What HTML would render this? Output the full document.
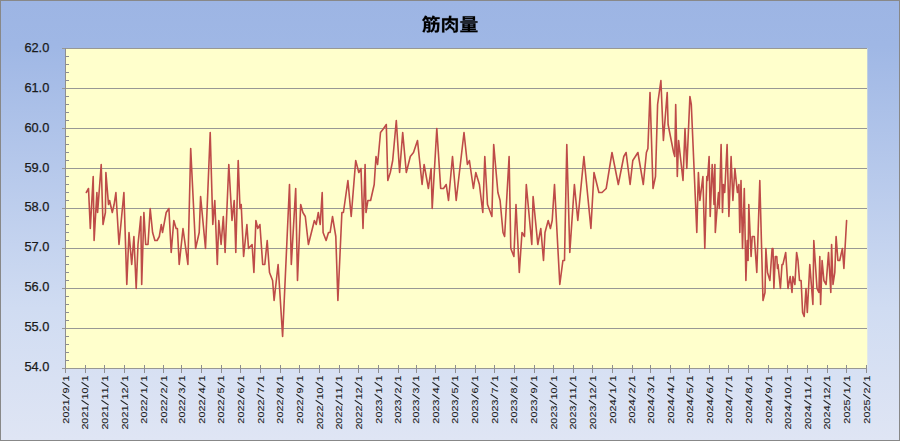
<!DOCTYPE html><html><head><meta charset="utf-8"><title>chart</title><style>html,body{margin:0;padding:0;background:#fff}body{width:900px;height:441px;overflow:hidden}svg{display:block}text{font-family:"Liberation Sans",sans-serif;fill:#1a1a1a}</style></head><body>
<svg width="900" height="441" viewBox="0 0 900 441">
<defs><linearGradient id="bg" x1="0" y1="0" x2="0" y2="1"><stop offset="0" stop-color="#9db5e4"/><stop offset="0.1" stop-color="#9fb7e5"/><stop offset="0.7" stop-color="#d0dcf2"/><stop offset="1" stop-color="#dfe5f4"/></linearGradient></defs>
<rect x="0" y="0" width="900" height="441" fill="#888"/>
<rect x="1" y="1" width="898" height="439" fill="url(#bg)"/>
<rect x="65.0" y="48.0" width="802.3" height="320.0" fill="#ffffcc"/>
<path d="M61.5 48.5H867.3M61.5 88.5H867.3M61.5 128.5H867.3M61.5 168.5H867.3M61.5 208.5H867.3M61.5 248.5H867.3M61.5 288.5H867.3M61.5 328.5H867.3M61.5 368.5H867.3" stroke="#989894" stroke-width="1" fill="none" shape-rendering="crispEdges"/>
<path d="M65.5 48.0V369.0M65.5 56.5H69.0M65.5 64.5H69.0M65.5 72.5H69.0M65.5 80.5H69.0M65.5 96.5H69.0M65.5 104.5H69.0M65.5 112.5H69.0M65.5 120.5H69.0M65.5 136.5H69.0M65.5 144.5H69.0M65.5 152.5H69.0M65.5 160.5H69.0M65.5 176.5H69.0M65.5 184.5H69.0M65.5 192.5H69.0M65.5 200.5H69.0M65.5 216.5H69.0M65.5 224.5H69.0M65.5 232.5H69.0M65.5 240.5H69.0M65.5 256.5H69.0M65.5 264.5H69.0M65.5 272.5H69.0M65.5 280.5H69.0M65.5 296.5H69.0M65.5 304.5H69.0M65.5 312.5H69.0M65.5 320.5H69.0M65.5 336.5H69.0M65.5 344.5H69.0M65.5 352.5H69.0M65.5 360.5H69.0M65.5 365.0V372.5M85.5 365.0V372.5M104.5 365.0V372.5M124.5 365.0V372.5M144.5 365.0V372.5M163.5 365.0V372.5M181.5 365.0V372.5M201.5 365.0V372.5M221.5 365.0V372.5M240.5 365.0V372.5M260.5 365.0V372.5M280.5 365.0V372.5M299.5 365.0V372.5M319.5 365.0V372.5M339.5 365.0V372.5M358.5 365.0V372.5M378.5 365.0V372.5M398.5 365.0V372.5M416.5 365.0V372.5M435.5 365.0V372.5M455.5 365.0V372.5M475.5 365.0V372.5M494.5 365.0V372.5M514.5 365.0V372.5M534.5 365.0V372.5M553.5 365.0V372.5M573.5 365.0V372.5M592.5 365.0V372.5M612.5 365.0V372.5M632.5 365.0V372.5M650.5 365.0V372.5M670.5 365.0V372.5M689.5 365.0V372.5M709.5 365.0V372.5M728.5 365.0V372.5M748.5 365.0V372.5M768.5 365.0V372.5M787.5 365.0V372.5M807.5 365.0V372.5M827.5 365.0V372.5M846.5 365.0V372.5M866.5 365.0V372.5" stroke="#8e8e90" stroke-width="1" fill="none" shape-rendering="crispEdges"/>
<text x="49.3" y="51.8" font-size="12.8" text-anchor="end" stroke="#1a1a1a" stroke-width="0.25">62.0</text>
<text x="49.3" y="91.7" font-size="12.8" text-anchor="end" stroke="#1a1a1a" stroke-width="0.25">61.0</text>
<text x="49.3" y="131.6" font-size="12.8" text-anchor="end" stroke="#1a1a1a" stroke-width="0.25">60.0</text>
<text x="49.3" y="171.5" font-size="12.8" text-anchor="end" stroke="#1a1a1a" stroke-width="0.25">59.0</text>
<text x="49.3" y="211.4" font-size="12.8" text-anchor="end" stroke="#1a1a1a" stroke-width="0.25">58.0</text>
<text x="49.3" y="251.2" font-size="12.8" text-anchor="end" stroke="#1a1a1a" stroke-width="0.25">57.0</text>
<text x="49.3" y="291.1" font-size="12.8" text-anchor="end" stroke="#1a1a1a" stroke-width="0.25">56.0</text>
<text x="49.3" y="331.0" font-size="12.8" text-anchor="end" stroke="#1a1a1a" stroke-width="0.25">55.0</text>
<text x="49.3" y="370.9" font-size="12.8" text-anchor="end" stroke="#1a1a1a" stroke-width="0.25">54.0</text>
<g transform="translate(69.2 375.6) rotate(-90) scale(1 0.9)"><text x="-6.00" y="0" font-size="10.8" stroke="#1a1a1a" stroke-width="0.1">1</text><text x="-18.01" y="0" font-size="10.8" stroke="#1a1a1a" stroke-width="0.1">9</text><text x="-30.01" y="0" font-size="10.8" stroke="#1a1a1a" stroke-width="0.1">1</text><text x="-36.02" y="0" font-size="10.8" stroke="#1a1a1a" stroke-width="0.1">2</text><text x="-42.02" y="0" font-size="10.8" stroke="#1a1a1a" stroke-width="0.1">0</text><text x="-48.03" y="0" font-size="10.8" stroke="#1a1a1a" stroke-width="0.1">2</text><path d="M-11.40 0.3L-6.60 -7.6M-23.41 0.3L-18.61 -7.6" stroke="#222" stroke-width="1.1" fill="none"/></g>
<g transform="translate(88.4 375.6) rotate(-90) scale(1 0.9)"><text x="-6.00" y="0" font-size="10.8" stroke="#1a1a1a" stroke-width="0.1">1</text><text x="-18.01" y="0" font-size="10.8" stroke="#1a1a1a" stroke-width="0.1">0</text><text x="-24.01" y="0" font-size="10.8" stroke="#1a1a1a" stroke-width="0.1">1</text><text x="-36.02" y="0" font-size="10.8" stroke="#1a1a1a" stroke-width="0.1">1</text><text x="-42.02" y="0" font-size="10.8" stroke="#1a1a1a" stroke-width="0.1">2</text><text x="-48.03" y="0" font-size="10.8" stroke="#1a1a1a" stroke-width="0.1">0</text><text x="-54.03" y="0" font-size="10.8" stroke="#1a1a1a" stroke-width="0.1">2</text><path d="M-11.40 0.3L-6.60 -7.6M-29.41 0.3L-24.61 -7.6" stroke="#222" stroke-width="1.1" fill="none"/></g>
<g transform="translate(108.3 375.6) rotate(-90) scale(1 0.9)"><text x="-6.00" y="0" font-size="10.8" stroke="#1a1a1a" stroke-width="0.1">1</text><text x="-18.01" y="0" font-size="10.8" stroke="#1a1a1a" stroke-width="0.1">1</text><text x="-24.01" y="0" font-size="10.8" stroke="#1a1a1a" stroke-width="0.1">1</text><text x="-36.02" y="0" font-size="10.8" stroke="#1a1a1a" stroke-width="0.1">1</text><text x="-42.02" y="0" font-size="10.8" stroke="#1a1a1a" stroke-width="0.1">2</text><text x="-48.03" y="0" font-size="10.8" stroke="#1a1a1a" stroke-width="0.1">0</text><text x="-54.03" y="0" font-size="10.8" stroke="#1a1a1a" stroke-width="0.1">2</text><path d="M-11.40 0.3L-6.60 -7.6M-29.41 0.3L-24.61 -7.6" stroke="#222" stroke-width="1.1" fill="none"/></g>
<g transform="translate(127.5 375.6) rotate(-90) scale(1 0.9)"><text x="-6.00" y="0" font-size="10.8" stroke="#1a1a1a" stroke-width="0.1">1</text><text x="-18.01" y="0" font-size="10.8" stroke="#1a1a1a" stroke-width="0.1">2</text><text x="-24.01" y="0" font-size="10.8" stroke="#1a1a1a" stroke-width="0.1">1</text><text x="-36.02" y="0" font-size="10.8" stroke="#1a1a1a" stroke-width="0.1">1</text><text x="-42.02" y="0" font-size="10.8" stroke="#1a1a1a" stroke-width="0.1">2</text><text x="-48.03" y="0" font-size="10.8" stroke="#1a1a1a" stroke-width="0.1">0</text><text x="-54.03" y="0" font-size="10.8" stroke="#1a1a1a" stroke-width="0.1">2</text><path d="M-11.40 0.3L-6.60 -7.6M-29.41 0.3L-24.61 -7.6" stroke="#222" stroke-width="1.1" fill="none"/></g>
<g transform="translate(147.4 375.6) rotate(-90) scale(1 0.9)"><text x="-6.00" y="0" font-size="10.8" stroke="#1a1a1a" stroke-width="0.1">1</text><text x="-18.01" y="0" font-size="10.8" stroke="#1a1a1a" stroke-width="0.1">1</text><text x="-30.01" y="0" font-size="10.8" stroke="#1a1a1a" stroke-width="0.1">2</text><text x="-36.02" y="0" font-size="10.8" stroke="#1a1a1a" stroke-width="0.1">2</text><text x="-42.02" y="0" font-size="10.8" stroke="#1a1a1a" stroke-width="0.1">0</text><text x="-48.03" y="0" font-size="10.8" stroke="#1a1a1a" stroke-width="0.1">2</text><path d="M-11.40 0.3L-6.60 -7.6M-23.41 0.3L-18.61 -7.6" stroke="#222" stroke-width="1.1" fill="none"/></g>
<g transform="translate(167.3 375.6) rotate(-90) scale(1 0.9)"><text x="-6.00" y="0" font-size="10.8" stroke="#1a1a1a" stroke-width="0.1">1</text><text x="-18.01" y="0" font-size="10.8" stroke="#1a1a1a" stroke-width="0.1">2</text><text x="-30.01" y="0" font-size="10.8" stroke="#1a1a1a" stroke-width="0.1">2</text><text x="-36.02" y="0" font-size="10.8" stroke="#1a1a1a" stroke-width="0.1">2</text><text x="-42.02" y="0" font-size="10.8" stroke="#1a1a1a" stroke-width="0.1">0</text><text x="-48.03" y="0" font-size="10.8" stroke="#1a1a1a" stroke-width="0.1">2</text><path d="M-11.40 0.3L-6.60 -7.6M-23.41 0.3L-18.61 -7.6" stroke="#222" stroke-width="1.1" fill="none"/></g>
<g transform="translate(185.2 375.6) rotate(-90) scale(1 0.9)"><text x="-6.00" y="0" font-size="10.8" stroke="#1a1a1a" stroke-width="0.1">1</text><text x="-18.01" y="0" font-size="10.8" stroke="#1a1a1a" stroke-width="0.1">3</text><text x="-30.01" y="0" font-size="10.8" stroke="#1a1a1a" stroke-width="0.1">2</text><text x="-36.02" y="0" font-size="10.8" stroke="#1a1a1a" stroke-width="0.1">2</text><text x="-42.02" y="0" font-size="10.8" stroke="#1a1a1a" stroke-width="0.1">0</text><text x="-48.03" y="0" font-size="10.8" stroke="#1a1a1a" stroke-width="0.1">2</text><path d="M-11.40 0.3L-6.60 -7.6M-23.41 0.3L-18.61 -7.6" stroke="#222" stroke-width="1.1" fill="none"/></g>
<g transform="translate(205.1 375.6) rotate(-90) scale(1 0.9)"><text x="-6.00" y="0" font-size="10.8" stroke="#1a1a1a" stroke-width="0.1">1</text><text x="-18.01" y="0" font-size="10.8" stroke="#1a1a1a" stroke-width="0.1">4</text><text x="-30.01" y="0" font-size="10.8" stroke="#1a1a1a" stroke-width="0.1">2</text><text x="-36.02" y="0" font-size="10.8" stroke="#1a1a1a" stroke-width="0.1">2</text><text x="-42.02" y="0" font-size="10.8" stroke="#1a1a1a" stroke-width="0.1">0</text><text x="-48.03" y="0" font-size="10.8" stroke="#1a1a1a" stroke-width="0.1">2</text><path d="M-11.40 0.3L-6.60 -7.6M-23.41 0.3L-18.61 -7.6" stroke="#222" stroke-width="1.1" fill="none"/></g>
<g transform="translate(224.4 375.6) rotate(-90) scale(1 0.9)"><text x="-6.00" y="0" font-size="10.8" stroke="#1a1a1a" stroke-width="0.1">1</text><text x="-18.01" y="0" font-size="10.8" stroke="#1a1a1a" stroke-width="0.1">5</text><text x="-30.01" y="0" font-size="10.8" stroke="#1a1a1a" stroke-width="0.1">2</text><text x="-36.02" y="0" font-size="10.8" stroke="#1a1a1a" stroke-width="0.1">2</text><text x="-42.02" y="0" font-size="10.8" stroke="#1a1a1a" stroke-width="0.1">0</text><text x="-48.03" y="0" font-size="10.8" stroke="#1a1a1a" stroke-width="0.1">2</text><path d="M-11.40 0.3L-6.60 -7.6M-23.41 0.3L-18.61 -7.6" stroke="#222" stroke-width="1.1" fill="none"/></g>
<g transform="translate(244.2 375.6) rotate(-90) scale(1 0.9)"><text x="-6.00" y="0" font-size="10.8" stroke="#1a1a1a" stroke-width="0.1">1</text><text x="-18.01" y="0" font-size="10.8" stroke="#1a1a1a" stroke-width="0.1">6</text><text x="-30.01" y="0" font-size="10.8" stroke="#1a1a1a" stroke-width="0.1">2</text><text x="-36.02" y="0" font-size="10.8" stroke="#1a1a1a" stroke-width="0.1">2</text><text x="-42.02" y="0" font-size="10.8" stroke="#1a1a1a" stroke-width="0.1">0</text><text x="-48.03" y="0" font-size="10.8" stroke="#1a1a1a" stroke-width="0.1">2</text><path d="M-11.40 0.3L-6.60 -7.6M-23.41 0.3L-18.61 -7.6" stroke="#222" stroke-width="1.1" fill="none"/></g>
<g transform="translate(263.5 375.6) rotate(-90) scale(1 0.9)"><text x="-6.00" y="0" font-size="10.8" stroke="#1a1a1a" stroke-width="0.1">1</text><text x="-18.01" y="0" font-size="10.8" stroke="#1a1a1a" stroke-width="0.1">7</text><text x="-30.01" y="0" font-size="10.8" stroke="#1a1a1a" stroke-width="0.1">2</text><text x="-36.02" y="0" font-size="10.8" stroke="#1a1a1a" stroke-width="0.1">2</text><text x="-42.02" y="0" font-size="10.8" stroke="#1a1a1a" stroke-width="0.1">0</text><text x="-48.03" y="0" font-size="10.8" stroke="#1a1a1a" stroke-width="0.1">2</text><path d="M-11.40 0.3L-6.60 -7.6M-23.41 0.3L-18.61 -7.6" stroke="#222" stroke-width="1.1" fill="none"/></g>
<g transform="translate(283.4 375.6) rotate(-90) scale(1 0.9)"><text x="-6.00" y="0" font-size="10.8" stroke="#1a1a1a" stroke-width="0.1">1</text><text x="-18.01" y="0" font-size="10.8" stroke="#1a1a1a" stroke-width="0.1">8</text><text x="-30.01" y="0" font-size="10.8" stroke="#1a1a1a" stroke-width="0.1">2</text><text x="-36.02" y="0" font-size="10.8" stroke="#1a1a1a" stroke-width="0.1">2</text><text x="-42.02" y="0" font-size="10.8" stroke="#1a1a1a" stroke-width="0.1">0</text><text x="-48.03" y="0" font-size="10.8" stroke="#1a1a1a" stroke-width="0.1">2</text><path d="M-11.40 0.3L-6.60 -7.6M-23.41 0.3L-18.61 -7.6" stroke="#222" stroke-width="1.1" fill="none"/></g>
<g transform="translate(303.2 375.6) rotate(-90) scale(1 0.9)"><text x="-6.00" y="0" font-size="10.8" stroke="#1a1a1a" stroke-width="0.1">1</text><text x="-18.01" y="0" font-size="10.8" stroke="#1a1a1a" stroke-width="0.1">9</text><text x="-30.01" y="0" font-size="10.8" stroke="#1a1a1a" stroke-width="0.1">2</text><text x="-36.02" y="0" font-size="10.8" stroke="#1a1a1a" stroke-width="0.1">2</text><text x="-42.02" y="0" font-size="10.8" stroke="#1a1a1a" stroke-width="0.1">0</text><text x="-48.03" y="0" font-size="10.8" stroke="#1a1a1a" stroke-width="0.1">2</text><path d="M-11.40 0.3L-6.60 -7.6M-23.41 0.3L-18.61 -7.6" stroke="#222" stroke-width="1.1" fill="none"/></g>
<g transform="translate(322.5 375.6) rotate(-90) scale(1 0.9)"><text x="-6.00" y="0" font-size="10.8" stroke="#1a1a1a" stroke-width="0.1">1</text><text x="-18.01" y="0" font-size="10.8" stroke="#1a1a1a" stroke-width="0.1">0</text><text x="-24.01" y="0" font-size="10.8" stroke="#1a1a1a" stroke-width="0.1">1</text><text x="-36.02" y="0" font-size="10.8" stroke="#1a1a1a" stroke-width="0.1">2</text><text x="-42.02" y="0" font-size="10.8" stroke="#1a1a1a" stroke-width="0.1">2</text><text x="-48.03" y="0" font-size="10.8" stroke="#1a1a1a" stroke-width="0.1">0</text><text x="-54.03" y="0" font-size="10.8" stroke="#1a1a1a" stroke-width="0.1">2</text><path d="M-11.40 0.3L-6.60 -7.6M-29.41 0.3L-24.61 -7.6" stroke="#222" stroke-width="1.1" fill="none"/></g>
<g transform="translate(342.4 375.6) rotate(-90) scale(1 0.9)"><text x="-6.00" y="0" font-size="10.8" stroke="#1a1a1a" stroke-width="0.1">1</text><text x="-18.01" y="0" font-size="10.8" stroke="#1a1a1a" stroke-width="0.1">1</text><text x="-24.01" y="0" font-size="10.8" stroke="#1a1a1a" stroke-width="0.1">1</text><text x="-36.02" y="0" font-size="10.8" stroke="#1a1a1a" stroke-width="0.1">2</text><text x="-42.02" y="0" font-size="10.8" stroke="#1a1a1a" stroke-width="0.1">2</text><text x="-48.03" y="0" font-size="10.8" stroke="#1a1a1a" stroke-width="0.1">0</text><text x="-54.03" y="0" font-size="10.8" stroke="#1a1a1a" stroke-width="0.1">2</text><path d="M-11.40 0.3L-6.60 -7.6M-29.41 0.3L-24.61 -7.6" stroke="#222" stroke-width="1.1" fill="none"/></g>
<g transform="translate(361.6 375.6) rotate(-90) scale(1 0.9)"><text x="-6.00" y="0" font-size="10.8" stroke="#1a1a1a" stroke-width="0.1">1</text><text x="-18.01" y="0" font-size="10.8" stroke="#1a1a1a" stroke-width="0.1">2</text><text x="-24.01" y="0" font-size="10.8" stroke="#1a1a1a" stroke-width="0.1">1</text><text x="-36.02" y="0" font-size="10.8" stroke="#1a1a1a" stroke-width="0.1">2</text><text x="-42.02" y="0" font-size="10.8" stroke="#1a1a1a" stroke-width="0.1">2</text><text x="-48.03" y="0" font-size="10.8" stroke="#1a1a1a" stroke-width="0.1">0</text><text x="-54.03" y="0" font-size="10.8" stroke="#1a1a1a" stroke-width="0.1">2</text><path d="M-11.40 0.3L-6.60 -7.6M-29.41 0.3L-24.61 -7.6" stroke="#222" stroke-width="1.1" fill="none"/></g>
<g transform="translate(381.5 375.6) rotate(-90) scale(1 0.9)"><text x="-6.00" y="0" font-size="10.8" stroke="#1a1a1a" stroke-width="0.1">1</text><text x="-18.01" y="0" font-size="10.8" stroke="#1a1a1a" stroke-width="0.1">1</text><text x="-30.01" y="0" font-size="10.8" stroke="#1a1a1a" stroke-width="0.1">3</text><text x="-36.02" y="0" font-size="10.8" stroke="#1a1a1a" stroke-width="0.1">2</text><text x="-42.02" y="0" font-size="10.8" stroke="#1a1a1a" stroke-width="0.1">0</text><text x="-48.03" y="0" font-size="10.8" stroke="#1a1a1a" stroke-width="0.1">2</text><path d="M-11.40 0.3L-6.60 -7.6M-23.41 0.3L-18.61 -7.6" stroke="#222" stroke-width="1.1" fill="none"/></g>
<g transform="translate(401.4 375.6) rotate(-90) scale(1 0.9)"><text x="-6.00" y="0" font-size="10.8" stroke="#1a1a1a" stroke-width="0.1">1</text><text x="-18.01" y="0" font-size="10.8" stroke="#1a1a1a" stroke-width="0.1">2</text><text x="-30.01" y="0" font-size="10.8" stroke="#1a1a1a" stroke-width="0.1">3</text><text x="-36.02" y="0" font-size="10.8" stroke="#1a1a1a" stroke-width="0.1">2</text><text x="-42.02" y="0" font-size="10.8" stroke="#1a1a1a" stroke-width="0.1">0</text><text x="-48.03" y="0" font-size="10.8" stroke="#1a1a1a" stroke-width="0.1">2</text><path d="M-11.40 0.3L-6.60 -7.6M-23.41 0.3L-18.61 -7.6" stroke="#222" stroke-width="1.1" fill="none"/></g>
<g transform="translate(419.3 375.6) rotate(-90) scale(1 0.9)"><text x="-6.00" y="0" font-size="10.8" stroke="#1a1a1a" stroke-width="0.1">1</text><text x="-18.01" y="0" font-size="10.8" stroke="#1a1a1a" stroke-width="0.1">3</text><text x="-30.01" y="0" font-size="10.8" stroke="#1a1a1a" stroke-width="0.1">3</text><text x="-36.02" y="0" font-size="10.8" stroke="#1a1a1a" stroke-width="0.1">2</text><text x="-42.02" y="0" font-size="10.8" stroke="#1a1a1a" stroke-width="0.1">0</text><text x="-48.03" y="0" font-size="10.8" stroke="#1a1a1a" stroke-width="0.1">2</text><path d="M-11.40 0.3L-6.60 -7.6M-23.41 0.3L-18.61 -7.6" stroke="#222" stroke-width="1.1" fill="none"/></g>
<g transform="translate(439.2 375.6) rotate(-90) scale(1 0.9)"><text x="-6.00" y="0" font-size="10.8" stroke="#1a1a1a" stroke-width="0.1">1</text><text x="-18.01" y="0" font-size="10.8" stroke="#1a1a1a" stroke-width="0.1">4</text><text x="-30.01" y="0" font-size="10.8" stroke="#1a1a1a" stroke-width="0.1">3</text><text x="-36.02" y="0" font-size="10.8" stroke="#1a1a1a" stroke-width="0.1">2</text><text x="-42.02" y="0" font-size="10.8" stroke="#1a1a1a" stroke-width="0.1">0</text><text x="-48.03" y="0" font-size="10.8" stroke="#1a1a1a" stroke-width="0.1">2</text><path d="M-11.40 0.3L-6.60 -7.6M-23.41 0.3L-18.61 -7.6" stroke="#222" stroke-width="1.1" fill="none"/></g>
<g transform="translate(458.4 375.6) rotate(-90) scale(1 0.9)"><text x="-6.00" y="0" font-size="10.8" stroke="#1a1a1a" stroke-width="0.1">1</text><text x="-18.01" y="0" font-size="10.8" stroke="#1a1a1a" stroke-width="0.1">5</text><text x="-30.01" y="0" font-size="10.8" stroke="#1a1a1a" stroke-width="0.1">3</text><text x="-36.02" y="0" font-size="10.8" stroke="#1a1a1a" stroke-width="0.1">2</text><text x="-42.02" y="0" font-size="10.8" stroke="#1a1a1a" stroke-width="0.1">0</text><text x="-48.03" y="0" font-size="10.8" stroke="#1a1a1a" stroke-width="0.1">2</text><path d="M-11.40 0.3L-6.60 -7.6M-23.41 0.3L-18.61 -7.6" stroke="#222" stroke-width="1.1" fill="none"/></g>
<g transform="translate(478.3 375.6) rotate(-90) scale(1 0.9)"><text x="-6.00" y="0" font-size="10.8" stroke="#1a1a1a" stroke-width="0.1">1</text><text x="-18.01" y="0" font-size="10.8" stroke="#1a1a1a" stroke-width="0.1">6</text><text x="-30.01" y="0" font-size="10.8" stroke="#1a1a1a" stroke-width="0.1">3</text><text x="-36.02" y="0" font-size="10.8" stroke="#1a1a1a" stroke-width="0.1">2</text><text x="-42.02" y="0" font-size="10.8" stroke="#1a1a1a" stroke-width="0.1">0</text><text x="-48.03" y="0" font-size="10.8" stroke="#1a1a1a" stroke-width="0.1">2</text><path d="M-11.40 0.3L-6.60 -7.6M-23.41 0.3L-18.61 -7.6" stroke="#222" stroke-width="1.1" fill="none"/></g>
<g transform="translate(497.5 375.6) rotate(-90) scale(1 0.9)"><text x="-6.00" y="0" font-size="10.8" stroke="#1a1a1a" stroke-width="0.1">1</text><text x="-18.01" y="0" font-size="10.8" stroke="#1a1a1a" stroke-width="0.1">7</text><text x="-30.01" y="0" font-size="10.8" stroke="#1a1a1a" stroke-width="0.1">3</text><text x="-36.02" y="0" font-size="10.8" stroke="#1a1a1a" stroke-width="0.1">2</text><text x="-42.02" y="0" font-size="10.8" stroke="#1a1a1a" stroke-width="0.1">0</text><text x="-48.03" y="0" font-size="10.8" stroke="#1a1a1a" stroke-width="0.1">2</text><path d="M-11.40 0.3L-6.60 -7.6M-23.41 0.3L-18.61 -7.6" stroke="#222" stroke-width="1.1" fill="none"/></g>
<g transform="translate(517.4 375.6) rotate(-90) scale(1 0.9)"><text x="-6.00" y="0" font-size="10.8" stroke="#1a1a1a" stroke-width="0.1">1</text><text x="-18.01" y="0" font-size="10.8" stroke="#1a1a1a" stroke-width="0.1">8</text><text x="-30.01" y="0" font-size="10.8" stroke="#1a1a1a" stroke-width="0.1">3</text><text x="-36.02" y="0" font-size="10.8" stroke="#1a1a1a" stroke-width="0.1">2</text><text x="-42.02" y="0" font-size="10.8" stroke="#1a1a1a" stroke-width="0.1">0</text><text x="-48.03" y="0" font-size="10.8" stroke="#1a1a1a" stroke-width="0.1">2</text><path d="M-11.40 0.3L-6.60 -7.6M-23.41 0.3L-18.61 -7.6" stroke="#222" stroke-width="1.1" fill="none"/></g>
<g transform="translate(537.3 375.6) rotate(-90) scale(1 0.9)"><text x="-6.00" y="0" font-size="10.8" stroke="#1a1a1a" stroke-width="0.1">1</text><text x="-18.01" y="0" font-size="10.8" stroke="#1a1a1a" stroke-width="0.1">9</text><text x="-30.01" y="0" font-size="10.8" stroke="#1a1a1a" stroke-width="0.1">3</text><text x="-36.02" y="0" font-size="10.8" stroke="#1a1a1a" stroke-width="0.1">2</text><text x="-42.02" y="0" font-size="10.8" stroke="#1a1a1a" stroke-width="0.1">0</text><text x="-48.03" y="0" font-size="10.8" stroke="#1a1a1a" stroke-width="0.1">2</text><path d="M-11.40 0.3L-6.60 -7.6M-23.41 0.3L-18.61 -7.6" stroke="#222" stroke-width="1.1" fill="none"/></g>
<g transform="translate(556.5 375.6) rotate(-90) scale(1 0.9)"><text x="-6.00" y="0" font-size="10.8" stroke="#1a1a1a" stroke-width="0.1">1</text><text x="-18.01" y="0" font-size="10.8" stroke="#1a1a1a" stroke-width="0.1">0</text><text x="-24.01" y="0" font-size="10.8" stroke="#1a1a1a" stroke-width="0.1">1</text><text x="-36.02" y="0" font-size="10.8" stroke="#1a1a1a" stroke-width="0.1">3</text><text x="-42.02" y="0" font-size="10.8" stroke="#1a1a1a" stroke-width="0.1">2</text><text x="-48.03" y="0" font-size="10.8" stroke="#1a1a1a" stroke-width="0.1">0</text><text x="-54.03" y="0" font-size="10.8" stroke="#1a1a1a" stroke-width="0.1">2</text><path d="M-11.40 0.3L-6.60 -7.6M-29.41 0.3L-24.61 -7.6" stroke="#222" stroke-width="1.1" fill="none"/></g>
<g transform="translate(576.4 375.6) rotate(-90) scale(1 0.9)"><text x="-6.00" y="0" font-size="10.8" stroke="#1a1a1a" stroke-width="0.1">1</text><text x="-18.01" y="0" font-size="10.8" stroke="#1a1a1a" stroke-width="0.1">1</text><text x="-24.01" y="0" font-size="10.8" stroke="#1a1a1a" stroke-width="0.1">1</text><text x="-36.02" y="0" font-size="10.8" stroke="#1a1a1a" stroke-width="0.1">3</text><text x="-42.02" y="0" font-size="10.8" stroke="#1a1a1a" stroke-width="0.1">2</text><text x="-48.03" y="0" font-size="10.8" stroke="#1a1a1a" stroke-width="0.1">0</text><text x="-54.03" y="0" font-size="10.8" stroke="#1a1a1a" stroke-width="0.1">2</text><path d="M-11.40 0.3L-6.60 -7.6M-29.41 0.3L-24.61 -7.6" stroke="#222" stroke-width="1.1" fill="none"/></g>
<g transform="translate(595.7 375.6) rotate(-90) scale(1 0.9)"><text x="-6.00" y="0" font-size="10.8" stroke="#1a1a1a" stroke-width="0.1">1</text><text x="-18.01" y="0" font-size="10.8" stroke="#1a1a1a" stroke-width="0.1">2</text><text x="-24.01" y="0" font-size="10.8" stroke="#1a1a1a" stroke-width="0.1">1</text><text x="-36.02" y="0" font-size="10.8" stroke="#1a1a1a" stroke-width="0.1">3</text><text x="-42.02" y="0" font-size="10.8" stroke="#1a1a1a" stroke-width="0.1">2</text><text x="-48.03" y="0" font-size="10.8" stroke="#1a1a1a" stroke-width="0.1">0</text><text x="-54.03" y="0" font-size="10.8" stroke="#1a1a1a" stroke-width="0.1">2</text><path d="M-11.40 0.3L-6.60 -7.6M-29.41 0.3L-24.61 -7.6" stroke="#222" stroke-width="1.1" fill="none"/></g>
<g transform="translate(615.5 375.6) rotate(-90) scale(1 0.9)"><text x="-6.00" y="0" font-size="10.8" stroke="#1a1a1a" stroke-width="0.1">1</text><text x="-18.01" y="0" font-size="10.8" stroke="#1a1a1a" stroke-width="0.1">1</text><text x="-30.01" y="0" font-size="10.8" stroke="#1a1a1a" stroke-width="0.1">4</text><text x="-36.02" y="0" font-size="10.8" stroke="#1a1a1a" stroke-width="0.1">2</text><text x="-42.02" y="0" font-size="10.8" stroke="#1a1a1a" stroke-width="0.1">0</text><text x="-48.03" y="0" font-size="10.8" stroke="#1a1a1a" stroke-width="0.1">2</text><path d="M-11.40 0.3L-6.60 -7.6M-23.41 0.3L-18.61 -7.6" stroke="#222" stroke-width="1.1" fill="none"/></g>
<g transform="translate(635.4 375.6) rotate(-90) scale(1 0.9)"><text x="-6.00" y="0" font-size="10.8" stroke="#1a1a1a" stroke-width="0.1">1</text><text x="-18.01" y="0" font-size="10.8" stroke="#1a1a1a" stroke-width="0.1">2</text><text x="-30.01" y="0" font-size="10.8" stroke="#1a1a1a" stroke-width="0.1">4</text><text x="-36.02" y="0" font-size="10.8" stroke="#1a1a1a" stroke-width="0.1">2</text><text x="-42.02" y="0" font-size="10.8" stroke="#1a1a1a" stroke-width="0.1">0</text><text x="-48.03" y="0" font-size="10.8" stroke="#1a1a1a" stroke-width="0.1">2</text><path d="M-11.40 0.3L-6.60 -7.6M-23.41 0.3L-18.61 -7.6" stroke="#222" stroke-width="1.1" fill="none"/></g>
<g transform="translate(654.0 375.6) rotate(-90) scale(1 0.9)"><text x="-6.00" y="0" font-size="10.8" stroke="#1a1a1a" stroke-width="0.1">1</text><text x="-18.01" y="0" font-size="10.8" stroke="#1a1a1a" stroke-width="0.1">3</text><text x="-30.01" y="0" font-size="10.8" stroke="#1a1a1a" stroke-width="0.1">4</text><text x="-36.02" y="0" font-size="10.8" stroke="#1a1a1a" stroke-width="0.1">2</text><text x="-42.02" y="0" font-size="10.8" stroke="#1a1a1a" stroke-width="0.1">0</text><text x="-48.03" y="0" font-size="10.8" stroke="#1a1a1a" stroke-width="0.1">2</text><path d="M-11.40 0.3L-6.60 -7.6M-23.41 0.3L-18.61 -7.6" stroke="#222" stroke-width="1.1" fill="none"/></g>
<g transform="translate(673.9 375.6) rotate(-90) scale(1 0.9)"><text x="-6.00" y="0" font-size="10.8" stroke="#1a1a1a" stroke-width="0.1">1</text><text x="-18.01" y="0" font-size="10.8" stroke="#1a1a1a" stroke-width="0.1">4</text><text x="-30.01" y="0" font-size="10.8" stroke="#1a1a1a" stroke-width="0.1">4</text><text x="-36.02" y="0" font-size="10.8" stroke="#1a1a1a" stroke-width="0.1">2</text><text x="-42.02" y="0" font-size="10.8" stroke="#1a1a1a" stroke-width="0.1">0</text><text x="-48.03" y="0" font-size="10.8" stroke="#1a1a1a" stroke-width="0.1">2</text><path d="M-11.40 0.3L-6.60 -7.6M-23.41 0.3L-18.61 -7.6" stroke="#222" stroke-width="1.1" fill="none"/></g>
<g transform="translate(693.1 375.6) rotate(-90) scale(1 0.9)"><text x="-6.00" y="0" font-size="10.8" stroke="#1a1a1a" stroke-width="0.1">1</text><text x="-18.01" y="0" font-size="10.8" stroke="#1a1a1a" stroke-width="0.1">5</text><text x="-30.01" y="0" font-size="10.8" stroke="#1a1a1a" stroke-width="0.1">4</text><text x="-36.02" y="0" font-size="10.8" stroke="#1a1a1a" stroke-width="0.1">2</text><text x="-42.02" y="0" font-size="10.8" stroke="#1a1a1a" stroke-width="0.1">0</text><text x="-48.03" y="0" font-size="10.8" stroke="#1a1a1a" stroke-width="0.1">2</text><path d="M-11.40 0.3L-6.60 -7.6M-23.41 0.3L-18.61 -7.6" stroke="#222" stroke-width="1.1" fill="none"/></g>
<g transform="translate(713.0 375.6) rotate(-90) scale(1 0.9)"><text x="-6.00" y="0" font-size="10.8" stroke="#1a1a1a" stroke-width="0.1">1</text><text x="-18.01" y="0" font-size="10.8" stroke="#1a1a1a" stroke-width="0.1">6</text><text x="-30.01" y="0" font-size="10.8" stroke="#1a1a1a" stroke-width="0.1">4</text><text x="-36.02" y="0" font-size="10.8" stroke="#1a1a1a" stroke-width="0.1">2</text><text x="-42.02" y="0" font-size="10.8" stroke="#1a1a1a" stroke-width="0.1">0</text><text x="-48.03" y="0" font-size="10.8" stroke="#1a1a1a" stroke-width="0.1">2</text><path d="M-11.40 0.3L-6.60 -7.6M-23.41 0.3L-18.61 -7.6" stroke="#222" stroke-width="1.1" fill="none"/></g>
<g transform="translate(732.3 375.6) rotate(-90) scale(1 0.9)"><text x="-6.00" y="0" font-size="10.8" stroke="#1a1a1a" stroke-width="0.1">1</text><text x="-18.01" y="0" font-size="10.8" stroke="#1a1a1a" stroke-width="0.1">7</text><text x="-30.01" y="0" font-size="10.8" stroke="#1a1a1a" stroke-width="0.1">4</text><text x="-36.02" y="0" font-size="10.8" stroke="#1a1a1a" stroke-width="0.1">2</text><text x="-42.02" y="0" font-size="10.8" stroke="#1a1a1a" stroke-width="0.1">0</text><text x="-48.03" y="0" font-size="10.8" stroke="#1a1a1a" stroke-width="0.1">2</text><path d="M-11.40 0.3L-6.60 -7.6M-23.41 0.3L-18.61 -7.6" stroke="#222" stroke-width="1.1" fill="none"/></g>
<g transform="translate(752.1 375.6) rotate(-90) scale(1 0.9)"><text x="-6.00" y="0" font-size="10.8" stroke="#1a1a1a" stroke-width="0.1">1</text><text x="-18.01" y="0" font-size="10.8" stroke="#1a1a1a" stroke-width="0.1">8</text><text x="-30.01" y="0" font-size="10.8" stroke="#1a1a1a" stroke-width="0.1">4</text><text x="-36.02" y="0" font-size="10.8" stroke="#1a1a1a" stroke-width="0.1">2</text><text x="-42.02" y="0" font-size="10.8" stroke="#1a1a1a" stroke-width="0.1">0</text><text x="-48.03" y="0" font-size="10.8" stroke="#1a1a1a" stroke-width="0.1">2</text><path d="M-11.40 0.3L-6.60 -7.6M-23.41 0.3L-18.61 -7.6" stroke="#222" stroke-width="1.1" fill="none"/></g>
<g transform="translate(772.0 375.6) rotate(-90) scale(1 0.9)"><text x="-6.00" y="0" font-size="10.8" stroke="#1a1a1a" stroke-width="0.1">1</text><text x="-18.01" y="0" font-size="10.8" stroke="#1a1a1a" stroke-width="0.1">9</text><text x="-30.01" y="0" font-size="10.8" stroke="#1a1a1a" stroke-width="0.1">4</text><text x="-36.02" y="0" font-size="10.8" stroke="#1a1a1a" stroke-width="0.1">2</text><text x="-42.02" y="0" font-size="10.8" stroke="#1a1a1a" stroke-width="0.1">0</text><text x="-48.03" y="0" font-size="10.8" stroke="#1a1a1a" stroke-width="0.1">2</text><path d="M-11.40 0.3L-6.60 -7.6M-23.41 0.3L-18.61 -7.6" stroke="#222" stroke-width="1.1" fill="none"/></g>
<g transform="translate(791.3 375.6) rotate(-90) scale(1 0.9)"><text x="-6.00" y="0" font-size="10.8" stroke="#1a1a1a" stroke-width="0.1">1</text><text x="-18.01" y="0" font-size="10.8" stroke="#1a1a1a" stroke-width="0.1">0</text><text x="-24.01" y="0" font-size="10.8" stroke="#1a1a1a" stroke-width="0.1">1</text><text x="-36.02" y="0" font-size="10.8" stroke="#1a1a1a" stroke-width="0.1">4</text><text x="-42.02" y="0" font-size="10.8" stroke="#1a1a1a" stroke-width="0.1">2</text><text x="-48.03" y="0" font-size="10.8" stroke="#1a1a1a" stroke-width="0.1">0</text><text x="-54.03" y="0" font-size="10.8" stroke="#1a1a1a" stroke-width="0.1">2</text><path d="M-11.40 0.3L-6.60 -7.6M-29.41 0.3L-24.61 -7.6" stroke="#222" stroke-width="1.1" fill="none"/></g>
<g transform="translate(811.1 375.6) rotate(-90) scale(1 0.9)"><text x="-6.00" y="0" font-size="10.8" stroke="#1a1a1a" stroke-width="0.1">1</text><text x="-18.01" y="0" font-size="10.8" stroke="#1a1a1a" stroke-width="0.1">1</text><text x="-24.01" y="0" font-size="10.8" stroke="#1a1a1a" stroke-width="0.1">1</text><text x="-36.02" y="0" font-size="10.8" stroke="#1a1a1a" stroke-width="0.1">4</text><text x="-42.02" y="0" font-size="10.8" stroke="#1a1a1a" stroke-width="0.1">2</text><text x="-48.03" y="0" font-size="10.8" stroke="#1a1a1a" stroke-width="0.1">0</text><text x="-54.03" y="0" font-size="10.8" stroke="#1a1a1a" stroke-width="0.1">2</text><path d="M-11.40 0.3L-6.60 -7.6M-29.41 0.3L-24.61 -7.6" stroke="#222" stroke-width="1.1" fill="none"/></g>
<g transform="translate(830.4 375.6) rotate(-90) scale(1 0.9)"><text x="-6.00" y="0" font-size="10.8" stroke="#1a1a1a" stroke-width="0.1">1</text><text x="-18.01" y="0" font-size="10.8" stroke="#1a1a1a" stroke-width="0.1">2</text><text x="-24.01" y="0" font-size="10.8" stroke="#1a1a1a" stroke-width="0.1">1</text><text x="-36.02" y="0" font-size="10.8" stroke="#1a1a1a" stroke-width="0.1">4</text><text x="-42.02" y="0" font-size="10.8" stroke="#1a1a1a" stroke-width="0.1">2</text><text x="-48.03" y="0" font-size="10.8" stroke="#1a1a1a" stroke-width="0.1">0</text><text x="-54.03" y="0" font-size="10.8" stroke="#1a1a1a" stroke-width="0.1">2</text><path d="M-11.40 0.3L-6.60 -7.6M-29.41 0.3L-24.61 -7.6" stroke="#222" stroke-width="1.1" fill="none"/></g>
<g transform="translate(850.3 375.6) rotate(-90) scale(1 0.9)"><text x="-6.00" y="0" font-size="10.8" stroke="#1a1a1a" stroke-width="0.1">1</text><text x="-18.01" y="0" font-size="10.8" stroke="#1a1a1a" stroke-width="0.1">1</text><text x="-30.01" y="0" font-size="10.8" stroke="#1a1a1a" stroke-width="0.1">5</text><text x="-36.02" y="0" font-size="10.8" stroke="#1a1a1a" stroke-width="0.1">2</text><text x="-42.02" y="0" font-size="10.8" stroke="#1a1a1a" stroke-width="0.1">0</text><text x="-48.03" y="0" font-size="10.8" stroke="#1a1a1a" stroke-width="0.1">2</text><path d="M-11.40 0.3L-6.60 -7.6M-23.41 0.3L-18.61 -7.6" stroke="#222" stroke-width="1.1" fill="none"/></g>
<g transform="translate(870.1 375.6) rotate(-90) scale(1 0.9)"><text x="-6.00" y="0" font-size="10.8" stroke="#1a1a1a" stroke-width="0.1">1</text><text x="-18.01" y="0" font-size="10.8" stroke="#1a1a1a" stroke-width="0.1">2</text><text x="-30.01" y="0" font-size="10.8" stroke="#1a1a1a" stroke-width="0.1">5</text><text x="-36.02" y="0" font-size="10.8" stroke="#1a1a1a" stroke-width="0.1">2</text><text x="-42.02" y="0" font-size="10.8" stroke="#1a1a1a" stroke-width="0.1">0</text><text x="-48.03" y="0" font-size="10.8" stroke="#1a1a1a" stroke-width="0.1">2</text><path d="M-11.40 0.3L-6.60 -7.6M-23.41 0.3L-18.61 -7.6" stroke="#222" stroke-width="1.1" fill="none"/></g>
<path transform="translate(421.60 31.0) scale(0.01892 -0.01795)" d="M353 440V383H235V440ZM606 567V472H495V364H606C604 251 584 113 465 -5C466 6 467 18 467 32V539H122V320C122 213 116 70 38 -30C65 -42 115 -74 135 -94C182 -31 208 51 221 133H353V34C353 22 349 18 338 18C326 18 289 18 254 20C269 -10 282 -58 286 -89C348 -89 393 -87 425 -69C445 -58 456 -44 461 -22C487 -41 519 -68 537 -90C687 43 715 215 717 364H824C818 143 808 60 793 39C784 27 775 25 761 25C744 25 712 25 676 28C693 -3 706 -51 707 -85C753 -86 795 -86 822 -81C852 -76 873 -66 894 -38C922 1 932 117 941 423C941 438 942 472 942 472H717V567ZM353 289V228H232L235 289ZM582 857C561 795 527 734 486 683V763H266C276 784 285 806 293 827L179 857C146 762 87 665 22 605C50 590 99 558 122 540C153 573 184 616 213 663H228C251 623 274 577 283 546L387 586C380 607 366 635 350 663H469C454 645 437 629 420 615C448 600 498 567 521 547C554 578 586 618 616 663H662C691 623 720 575 732 542L837 582C827 605 809 634 789 663H955V763H672C682 784 691 805 699 827Z" fill="#000" stroke="#000" stroke-width="8"/>
<path transform="translate(440.52 31.0) scale(0.01892 -0.01795)" d="M83 708V-90H204V591H413C384 509 329 444 219 398C245 378 277 336 291 308C386 349 448 402 489 468C565 419 649 359 692 316L774 408C721 455 616 522 535 568L542 591H797V46C797 30 792 26 776 25C763 25 722 25 681 27L763 105C715 153 617 226 545 278C557 311 565 346 572 381H448C428 281 391 172 219 109C246 87 276 46 290 17C389 59 452 113 494 175C556 127 625 69 665 27L656 28C672 -5 688 -58 692 -92C772 -92 828 -90 867 -70C905 -51 916 -16 916 44V708H563C569 752 572 798 574 846H447C445 797 443 751 438 708Z" fill="#000" stroke="#000" stroke-width="8"/>
<path transform="translate(459.43 31.0) scale(0.01892 -0.01795)" d="M288 666H704V632H288ZM288 758H704V724H288ZM173 819V571H825V819ZM46 541V455H957V541ZM267 267H441V232H267ZM557 267H732V232H557ZM267 362H441V327H267ZM557 362H732V327H557ZM44 22V-65H959V22H557V59H869V135H557V168H850V425H155V168H441V135H134V59H441V22Z" fill="#000" stroke="#000" stroke-width="8"/>
<path d="M86.3 192.5 L88.5 188.5 L90.3 228.5 L93.2 176.5 L94.1 240.5 L96.9 192.5 L97.6 212.5 L101.2 164.5 L103.0 224.5 L105.4 212.5 L105.9 172.5 L108.5 204.5 L109.6 200.5 L112.3 212.5 L114.1 204.5 L115.9 192.5 L119.0 244.5 L123.9 192.5 L126.8 284.5 L129.0 232.5 L131.7 264.5 L133.9 236.5 L136.2 288.5 L138.0 244.5 L140.8 216.5 L141.7 284.5 L143.9 212.5 L145.7 244.5 L148.0 244.5 L150.2 208.5 L152.6 232.5 L154.9 240.5 L157.1 240.5 L159.3 236.5 L161.3 224.5 L162.5 232.5 L166.2 212.5 L168.9 208.5 L171.2 252.5 L173.8 220.5 L176.1 228.5 L177.4 228.5 L179.2 264.5 L183.0 228.5 L187.9 264.5 L190.7 148.5 L195.6 248.5 L199.2 232.5 L200.6 196.5 L205.5 248.5 L210.2 132.5 L212.8 224.5 L214.8 200.5 L217.3 264.5 L218.8 220.5 L221.1 244.5 L223.3 216.5 L225.1 252.5 L228.8 164.5 L232.0 220.5 L234.2 200.5 L235.8 252.5 L238.2 160.5 L240.0 208.5 L241.2 204.5 L243.6 256.5 L246.9 224.5 L248.5 248.5 L252.1 244.5 L253.9 272.5 L255.9 220.5 L257.8 228.5 L259.9 224.5 L262.7 264.5 L264.8 264.5 L267.2 240.5 L269.5 272.5 L272.6 280.5 L274.1 300.5 L278.1 264.5 L282.6 336.5 L289.5 184.5 L291.3 264.5 L295.7 188.5 L297.5 280.5 L300.7 204.5 L302.9 212.5 L305.3 216.5 L308.4 244.5 L314.4 220.5 L316.2 224.5 L318.3 212.5 L320.2 224.5 L322.2 192.5 L323.1 232.5 L326.1 240.5 L328.5 232.5 L330.1 232.5 L332.5 216.5 L335.8 236.5 L337.9 300.5 L341.9 212.5 L343.4 212.5 L347.9 180.5 L351.2 216.5 L355.7 160.5 L358.8 172.5 L361.0 168.5 L363.0 228.5 L365.1 164.5 L366.0 212.5 L367.9 200.5 L370.6 200.5 L374.2 184.5 L376.0 156.5 L377.6 164.5 L380.5 132.5 L383.6 128.5 L386.3 124.5 L387.8 180.5 L390.3 172.5 L392.7 160.5 L396.3 120.5 L399.6 172.5 L402.7 132.5 L406.3 172.5 L410.3 156.5 L413.5 152.5 L417.5 140.5 L422.1 184.5 L424.1 164.5 L428.4 188.5 L431.1 168.5 L432.2 208.5 L436.8 128.5 L440.7 188.5 L443.5 188.5 L446.2 184.5 L448.5 200.5 L452.5 156.5 L456.2 200.5 L464.0 132.5 L467.4 164.5 L469.4 160.5 L473.4 188.5 L475.8 172.5 L479.4 184.5 L482.8 212.5 L484.8 156.5 L487.5 204.5 L491.9 216.5 L493.7 144.5 L497.9 192.5 L500.1 200.5 L503.0 232.5 L504.6 236.5 L509.1 156.5 L510.8 248.5 L513.9 256.5 L516.0 204.5 L519.3 272.5 L522.0 232.5 L524.5 236.5 L526.3 184.5 L531.8 244.5 L533.1 196.5 L537.8 244.5 L540.8 228.5 L543.5 260.5 L545.0 232.5 L548.2 220.5 L550.4 228.5 L552.2 220.5 L554.5 184.5 L559.8 284.5 L562.9 260.5 L564.5 260.5 L566.8 144.5 L569.8 252.5 L574.4 184.5 L577.8 220.5 L583.9 156.5 L590.9 228.5 L594.0 172.5 L598.9 192.5 L602.0 192.5 L606.2 188.5 L612.0 152.5 L618.3 184.5 L623.8 156.5 L626.1 152.5 L630.1 184.5 L632.8 160.5 L637.9 152.5 L643.3 184.5 L646.4 152.5 L647.9 148.5 L650.0 92.5 L653.0 188.5 L655.5 176.5 L657.6 104.5 L660.9 80.5 L663.4 140.5 L667.2 92.5 L668.1 124.5 L673.6 152.5 L674.8 156.5 L675.7 104.5 L677.3 176.5 L678.6 140.5 L683.0 180.5 L685.0 128.5 L686.8 168.5 L689.9 96.5 L691.3 104.5 L696.8 232.5 L698.4 172.5 L699.9 200.5 L702.9 176.5 L704.8 248.5 L706.8 176.5 L707.5 180.5 L709.1 156.5 L710.2 216.5 L712.2 164.5 L713.1 180.5 L714.0 204.5 L714.9 164.5 L715.3 232.5 L717.1 208.5 L718.5 192.5 L719.3 208.5 L721.1 144.5 L722.5 212.5 L723.4 184.5 L724.7 192.5 L727.1 144.5 L728.9 216.5 L731.1 156.5 L732.9 200.5 L734.9 168.5 L737.4 192.5 L738.9 184.5 L739.8 232.5 L741.0 180.5 L742.5 248.5 L744.3 188.5 L745.9 280.5 L747.2 240.5 L748.1 260.5 L748.8 204.5 L751.1 256.5 L752.2 236.5 L754.3 236.5 L756.8 272.5 L759.8 180.5 L763.0 300.5 L765.0 292.5 L765.9 248.5 L767.5 272.5 L769.9 280.5 L772.1 248.5 L773.0 248.5 L773.9 288.5 L775.3 256.5 L776.8 256.5 L777.5 268.5 L778.0 264.5 L780.4 288.5 L782.0 264.5 L782.9 264.5 L785.7 252.5 L788.0 288.5 L790.2 276.5 L792.0 292.5 L792.9 276.5 L794.9 284.5 L796.6 252.5 L798.0 260.5 L799.5 280.5 L801.1 280.5 L802.6 312.5 L804.2 316.5 L806.0 288.5 L807.3 312.5 L809.8 264.5 L812.9 304.5 L813.8 240.5 L817.0 288.5 L818.9 292.5 L819.8 256.5 L820.6 304.5 L822.1 260.5 L823.9 280.5 L826.1 284.5 L828.5 252.5 L830.8 292.5 L831.6 244.5 L833.0 284.5 L834.8 272.5 L836.1 236.5 L837.9 260.5 L839.7 260.5 L842.4 248.5 L843.9 268.5 L846.6 220.5" stroke="#be4b48" stroke-width="1.6" fill="none" stroke-linejoin="round" stroke-linecap="round"/>
</svg></body></html>
